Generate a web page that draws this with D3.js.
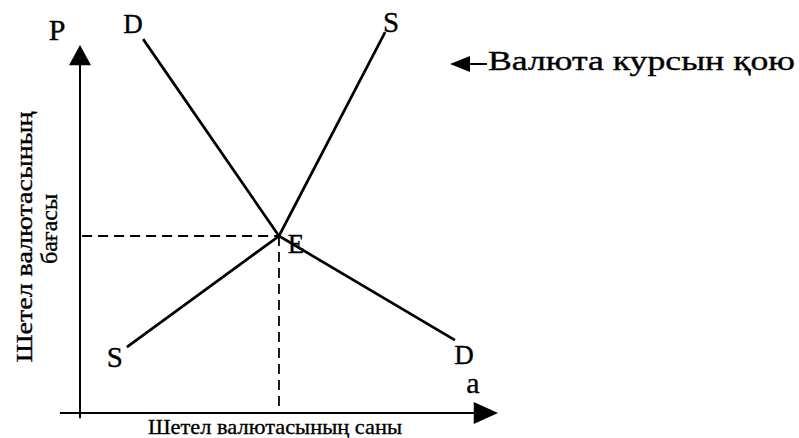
<!DOCTYPE html>
<html>
<head>
<meta charset="utf-8">
<script src="https://cdn.jsdelivr.net/npm/d3@7"></script>
<style>
    body { margin: 0; background: #fff; }
    svg { display: block; font-family: "Liberation Serif", "DejaVu Serif", serif; }
    text { stroke: #000; stroke-width: 0.35px; }
</style>
</head>
<body>
<div id="chart"></div>
<script>
// Curves in (quantity, price) units, axis runs 0..10 on both
const demandPoints = [
    { q: 1.51, p: 10.16 },
    { q: 4.76, p: 4.81 },
    { q: 8.97, p: 1.98 }
];
const supplyPoints = [
    { q: 1.12, p: 1.79 },
    { q: 4.76, p: 4.81 },
    { q: 7.30, p: 10.35 }
];
const equilibrium = { q: 4.76, p: 4.81 };

const curveLabels = ['D', 'S'];
const axisLabels = ['P', 'a'];
const yTitle = ['Шетел валютасының', 'бағасы'];
const xTitle = 'Шетел валютасының саны';
const noteText = 'Валюта курсын қою';

class ExchangeChart {
    constructor() {
        this.width = 799;
        this.height = 438;
        this.draw();
    }

    draw() {
        const svg = d3.select('#chart')
            .append('svg')
            .attr('width', this.width)
            .attr('height', this.height);

        // Scales
        const x = d3.scaleLinear().domain([0, 10]).range([80, 498]);
        const y = d3.scaleLinear().domain([0, 10]).range([413, 45]);

        // Axes (plain lines with filled arrowheads)
        svg.append('line')
            .attr('x1', x(0)).attr('y1', y(-0.14))
            .attr('x2', x(0)).attr('y2', y(9.6))
            .attr('stroke', '#000').attr('stroke-width', 2);
        svg.append('path')
            .attr('d', `M${x(0)},${y(10)} L${x(0) - 11},${y(9.45)} L${x(0) + 11},${y(9.45)} Z`)
            .attr('fill', '#000');

        svg.append('line')
            .attr('x1', x(-0.48)).attr('y1', y(0))
            .attr('x2', x(9.6)).attr('y2', y(0))
            .attr('stroke', '#000').attr('stroke-width', 2);
        svg.append('path')
            .attr('d', `M${x(10)},${y(0)} L${x(9.42)},${y(0) - 11} L${x(9.42)},${y(0) + 11} Z`)
            .attr('fill', '#000');

        // Dashed guides to equilibrium
        svg.append('line')
            .attr('x1', x(0.05)).attr('y1', y(equilibrium.p))
            .attr('x2', x(equilibrium.q)).attr('y2', y(equilibrium.p))
            .attr('stroke', '#000').attr('stroke-width', 1.8)
            .attr('stroke-dasharray', '10,6');
        svg.append('line')
            .attr('x1', x(equilibrium.q)).attr('y1', y(equilibrium.p))
            .attr('x2', x(equilibrium.q)).attr('y2', y(0))
            .attr('stroke', '#000').attr('stroke-width', 1.8)
            .attr('stroke-dasharray', '10,6');

        // Demand and supply curves
        const line = d3.line().x(d => x(d.q)).y(d => y(d.p));
        [demandPoints, supplyPoints].forEach(pts => {
            svg.append('path')
                .datum(pts)
                .attr('fill', 'none')
                .attr('stroke', '#000')
                .attr('stroke-width', 2.7)
                .attr('d', line);
        });

        const label = (text, px, py, size, anchor) => svg.append('text')
            .attr('x', px).attr('y', py)
            .attr('font-size', size)
            .attr('text-anchor', anchor || 'middle')
            .attr('fill', '#000')
            .text(text);

        // Curve end labels
        const dTop = demandPoints[0], dEnd = demandPoints[demandPoints.length - 1];
        const sLow = supplyPoints[0], sTop = supplyPoints[supplyPoints.length - 1];
        label(curveLabels[0], x(dTop.q) - 10, y(dTop.p) - 6, 27);
        label(curveLabels[0], x(dEnd.q) + 9, y(dEnd.p) + 24, 27);
        label(curveLabels[1], x(sLow.q) - 12, y(sLow.p) + 20, 29);
        label(curveLabels[1], x(sTop.q) + 6, y(sTop.p) + 0, 29);
        label('E', x(equilibrium.q) + 17, y(equilibrium.p) + 17, 27);

        // Axis letters
        label(axisLabels[0], x(0) - 23, y(10) - 5, 30);
        label(axisLabels[1], x(9.4), y(0) - 20, 30);

        // Axis titles
        svg.append('text')
            .attr('transform', `translate(32,${y(4.78)}) rotate(-90)`)
            .attr('font-size', 24)
            .attr('text-anchor', 'middle')
            .attr('textLength', 251)
            .attr('lengthAdjust', 'spacingAndGlyphs')
            .text(yTitle[0]);
        svg.append('text')
            .attr('transform', `translate(57,${y(5.0)}) rotate(-90)`)
            .attr('font-size', 23)
            .attr('text-anchor', 'middle')
            .attr('textLength', 70)
            .attr('lengthAdjust', 'spacingAndGlyphs')
            .text(yTitle[1]);

        svg.append('text')
            .attr('x', 275).attr('y', 434)
            .attr('font-size', 22)
            .attr('text-anchor', 'middle')
            .attr('textLength', 254)
            .attr('lengthAdjust', 'spacingAndGlyphs')
            .text(xTitle);

        // Note with arrow, upper right
        svg.append('path')
            .attr('d', 'M450,64 L470,56 L470,72 Z')
            .attr('fill', '#000');
        svg.append('line')
            .attr('x1', 468).attr('y1', 64)
            .attr('x2', 487).attr('y2', 64)
            .attr('stroke', '#000').attr('stroke-width', 2);
        svg.append('text')
            .attr('x', 488).attr('y', 70)
            .attr('font-size', 27)
            .attr('textLength', 307)
            .attr('lengthAdjust', 'spacingAndGlyphs')
            .text(noteText);
    }
}

document.addEventListener('DOMContentLoaded', () => {
    new ExchangeChart();
});
</script>
</body>
</html>
